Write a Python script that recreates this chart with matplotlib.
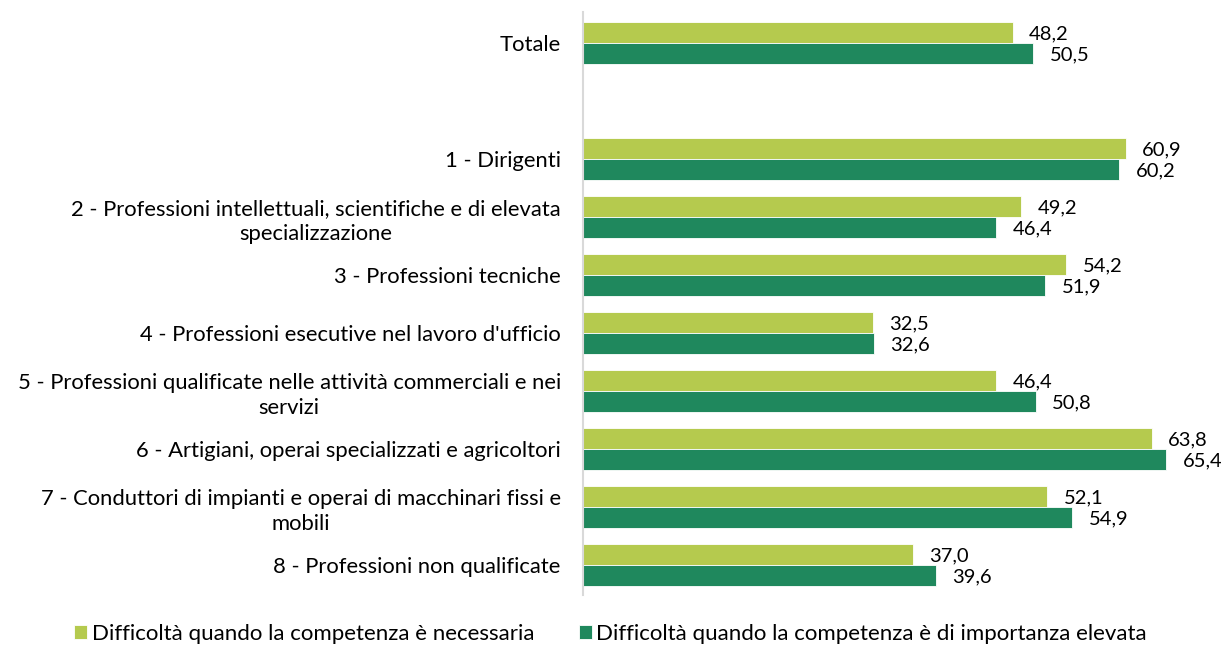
import matplotlib.pyplot as plt

# categories ("" = empty slot between Totale and the groups)
categories = [
    "Totale",
    "",
    "1 - Dirigenti",
    "2 - Professioni intellettuali, scientifiche e di elevata\nspecializzazione",
    "3 - Professioni tecniche",
    "4 - Professioni esecutive nel lavoro d'ufficio",
    "5 - Professioni qualificate nelle attività commerciali e nei\nservizi",
    "6 - Artigiani, operai specializzati e agricoltori",
    "7 - Conduttori di impianti e operai di macchinari fissi e\nmobili",
    "8 - Professioni non qualificate",
]
necessaria = [48.2, None, 60.9, 49.2, 54.2, 32.5, 46.4, 63.8, 52.1, 37.0]
elevata = [50.5, None, 60.2, 46.4, 51.9, 32.6, 50.8, 65.4, 54.9, 39.6]

series_names = [
    "Difficoltà quando la competenza è necessaria",
    "Difficoltà quando la competenza è di importanza elevata",
]
colors = ["#B5CA4E", "#1F885D"]

plt.rcParams["font.family"] = ["Lato", "DejaVu Sans"]

fig = plt.figure(figsize=(12.21, 6.48), dpi=100)
ax = fig.add_axes([0.4775, 0.0818, 0.5225, 0.8997])

h = 0.36
for i in range(len(categories)):
    if necessaria[i] is None:
        continue
    ax.barh(i - h / 2, necessaria[i], height=h, color=colors[0],
            edgecolor="white", linewidth=0.6,
            label=series_names[0] if i == 0 else None)
    ax.barh(i + h / 2, elevata[i], height=h, color=colors[1],
            edgecolor="white", linewidth=0.6,
            label=series_names[1] if i == 0 else None)
    ax.annotate(f"{necessaria[i]:.1f}".replace(".", ","), (necessaria[i], i - h / 2),
                xytext=(12, -1), textcoords="offset points", va="center", fontsize=14.5)
    ax.annotate(f"{elevata[i]:.1f}".replace(".", ","), (elevata[i], i + h / 2),
                xytext=(12, -1), textcoords="offset points", va="center", fontsize=14.5)

ax.set_yticks(range(len(categories)))
ax.set_yticklabels(categories, fontsize=15.8, multialignment="center", linespacing=1.35)
ax.tick_params(axis="y", length=0, pad=16)
ax.set_xticks([])
ax.set_xlim(0, 71.6)
ax.set_ylim(9.52, -0.53)

for s in ["top", "right", "bottom"]:
    ax.spines[s].set_visible(False)
ax.spines["left"].set_color("#D9D9D9")
ax.spines["left"].set_linewidth(1.5)

fig.legend(loc="lower center", bbox_to_anchor=(0.5, -0.025), ncol=2, frameon=False,
           fontsize=16, handlelength=0.6, handleheight=0.6, handletextpad=0.2,
           columnspacing=2.0)

fig.savefig("out.png", dpi=100)
